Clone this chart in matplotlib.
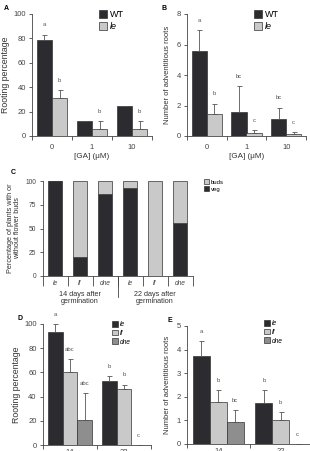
import numpy as np
import matplotlib.pyplot as plt
from matplotlib.patches import Patch

plt.rcParams['font.family'] = ['Liberation Sans', 'DejaVu Sans']

DARK = '#2b2b30'
LIGHT = '#c9c9c9'
MID = '#8e8e8e'
EDGE = '#333333'

# panel A / B data
ga_conc = ['0', '1', '10']
a_wt = [79, 12, 25]
a_wt_err = [4, 0, 0]
a_le = [31, 6, 6]
a_le_err = [6.5, 6, 6]
a_letters_wt = ['a', '', '']
a_letters_le = ['b', 'b', 'b']

b_wt = [5.55, 1.6, 1.1]
b_wt_err = [1.4, 1.65, 0.75]
b_le = [1.45, 0.2, 0.12]
b_le_err = [0.67, 0.2, 0.13]
b_letters_wt = ['a', 'bc', 'bc']
b_letters_le = ['b', 'c', 'c']

# panel C data
c_genotypes = ['le', 'lf', 'dne', 'le', 'lf', 'dne']
c_groups = ['14 days after\ngermination', '22 days after\ngermination']
c_veg = [100, 20, 86, 93, 0, 56]
c_buds = [100 - v for v in c_veg]

# panel D / E data
de_days = ['14', '22']
d_le = [93, 53]
d_le_err = [7, 4]
d_lf = [60, 46]
d_lf_err = [11, 4]
d_dne = [21, 0]
d_dne_err = [22, 0]
d_letters = [['a', 'b'], ['abc', 'b'], ['abc', 'c']]

e_le = [3.75, 1.72]
e_le_err = [0.6, 0.56]
e_lf = [1.8, 1.0]
e_lf_err = [0.48, 0.35]
e_dne = [0.92, 0.0]
e_dne_err = [0.53, 0.0]
e_letters = [['a', 'b'], ['b', 'b'], ['bc', 'c']]

W, H = 310, 451
fig = plt.figure(figsize=(W / 100, H / 100), dpi=100)


def px_axes(left, top, right, bottom):
    return fig.add_axes([left / W, 1 - bottom / H, (right - left) / W, (bottom - top) / H])


def style_axes(ax, tick_size=5.5):
    for s in ['top', 'right']:
        ax.spines[s].set_visible(False)
    for s in ['left', 'bottom']:
        ax.spines[s].set_linewidth(0.6)
        ax.spines[s].set_color('#444444')
    ax.tick_params(axis='y', labelsize=tick_size, length=2.5, width=0.6, pad=2, colors='#444444')
    ax.tick_params(axis='x', which='major', labelsize=tick_size, length=0, pad=6, colors='#444444')
    ax.tick_params(axis='x', which='minor', length=3, width=0.6, colors='#444444')


def grouped_bars(ax, series, errs, colors, letters, offsets, width, ymax):
    x = np.arange(len(series[0]))
    for vals, err, col, lets, off in zip(series, errs, colors, letters, offsets):
        ax.bar(x + off, vals, width, color=col, edgecolor=EDGE, linewidth=0.5, zorder=2)
        ax.errorbar(x + off, vals, yerr=[np.zeros(len(err)), err], fmt='none',
                    ecolor='#555555', elinewidth=0.6, capsize=1.8, capthick=0.6, zorder=3)
        for xi, v, e, t in zip(x + off, vals, err, lets):
            if t:
                ax.text(xi, v + e + ymax * 0.06, t, ha='center', va='bottom',
                        fontsize=4.3, color='#555555')
    ax.set_xticks(x)
    ax.set_xticks(np.arange(len(x) + 1) - 0.5, minor=True)
    ax.set_xlim(-0.5, len(x) - 0.5)
    ax.set_ylim(0, ymax)


def square_legend(ax, labels, colors, loc_px, size, italic, spacing=0.25):
    handles = [Patch(facecolor=c, edgecolor=EDGE, linewidth=0.5) for c in colors]
    leg = ax.legend(handles, labels, loc='upper left',
                    bbox_to_anchor=(loc_px[0] / W, 1 - loc_px[1] / H),
                    bbox_transform=fig.transFigure, frameon=False,
                    handlelength=0.9, handleheight=0.9, handletextpad=0.3,
                    labelspacing=spacing, borderpad=0, borderaxespad=0,
                    prop={'size': size, 'style': 'italic' if italic else 'normal'})
    return leg


# ---------- A ----------
axA = px_axes(32, 14, 152, 136)
style_axes(axA)
grouped_bars(axA, [a_wt, a_le], [a_wt_err, a_le_err], [DARK, LIGHT],
             [a_letters_wt, a_letters_le], [-0.19, 0.19], 0.385, 100)
axA.set_xticklabels(ga_conc)
axA.set_yticks(range(0, 101, 20))
axA.set_ylabel('Rooting percentage', fontsize=6.3, labelpad=2, color='#333333')
axA.set_xlabel('[GA] (\u03bcM)', fontsize=5.8, labelpad=1, color='#333333')
legA = square_legend(axA, ['WT', 'le'], [DARK, LIGHT], (99, 10), 6.5, False, 0.35)
legA.get_texts()[1].set_style('italic')
fig.text(4 / W, 1 - 9 / H, 'A', fontsize=5, fontweight='bold', va='center')

# ---------- B ----------
axB = px_axes(187, 14, 306, 136)
style_axes(axB)
grouped_bars(axB, [b_wt, b_le], [b_wt_err, b_le_err], [DARK, LIGHT],
             [b_letters_wt, b_letters_le], [-0.19, 0.19], 0.385, 8)
axB.set_xticklabels(ga_conc)
axB.set_yticks(range(0, 9, 2))
axB.set_ylabel('Number of adventitious roots', fontsize=5.5, labelpad=4, color='#333333')
axB.set_xlabel('[GA] (\u03bcM)', fontsize=5.8, labelpad=1, color='#333333')
legB = square_legend(axB, ['WT', 'le'], [DARK, LIGHT], (254, 10), 6.5, False, 0.35)
legB.get_texts()[1].set_style('italic')
fig.text(161 / W, 1 - 9 / H, 'B', fontsize=5, fontweight='bold', va='center')

# ---------- C ----------
axC = px_axes(42.5, 181, 192.5, 276)
style_axes(axC, tick_size=4.8)
xc = np.arange(len(c_veg))
axC.bar(xc, c_veg, 0.56, color=DARK, edgecolor=EDGE, linewidth=0.5, label='veg')
axC.bar(xc, c_buds, 0.56, bottom=c_veg, color=LIGHT, edgecolor=EDGE, linewidth=0.5, label='buds')
axC.set_xlim(-0.5, 5.5)
axC.set_ylim(0, 100)
axC.set_yticks([0, 25, 50, 75, 100])
axC.set_xticks(xc)
axC.set_xticklabels(c_genotypes, fontstyle='italic')
axC.set_xticks(np.arange(7) - 0.5, minor=True)
axC.tick_params(axis='x', which='minor', length=7)
axC.tick_params(axis='x', which='major', pad=3)
axC.set_ylabel('Percentage of plants with or\nwithout flower buds', fontsize=5.2,
               labelpad=3, color='#333333', linespacing=1.1)
axC.plot([2.5, 2.5], [0, -0.22], transform=axC.get_xaxis_transform(),
         color='#444444', lw=0.6, clip_on=False)
for gi, g in enumerate(c_groups):
    axC.text(1 + 3 * gi, -0.16, g, transform=axC.get_xaxis_transform(), ha='center',
             va='top', fontsize=5.2, color='#333333', linespacing=0.95)
handlesC = [Patch(facecolor=LIGHT, edgecolor=EDGE, linewidth=0.5),
            Patch(facecolor=DARK, edgecolor=EDGE, linewidth=0.5)]
axC.legend(handlesC, ['buds', 'veg'], loc='upper left',
           bbox_to_anchor=(204 / W, 1 - 179 / H), bbox_transform=fig.transFigure,
           frameon=False, handlelength=0.9, handleheight=0.9, handletextpad=0.2,
           labelspacing=0.3, borderpad=0, borderaxespad=0, prop={'size': 4.3})
fig.text(11 / W, 1 - 172 / H, 'C', fontsize=5, fontweight='bold', va='center')

# ---------- D ----------
axD = px_axes(43, 324, 151, 445)
style_axes(axD)
axD.tick_params(axis='x', which='major', pad=3)
grouped_bars(axD, [d_le, d_lf, d_dne], [d_le_err, d_lf_err, d_dne_err], [DARK, LIGHT, MID],
             d_letters, [-0.27, 0, 0.27], 0.27, 100)
axD.set_xticklabels(de_days)
axD.set_yticks(range(0, 101, 20))
axD.set_ylabel('Rooting percentage', fontsize=6.3, labelpad=2, color='#333333')
square_legend(axD, ['le', 'lf', 'dne'], [DARK, LIGHT, MID], (112, 321), 4.8, True, 0.25)
fig.text(17 / W, 1 - 319 / H, 'D', fontsize=5, fontweight='bold', va='center')

# ---------- E ----------
axE = px_axes(187, 326, 312, 444)
style_axes(axE)
axE.tick_params(axis='x', which='major', pad=3)
grouped_bars(axE, [e_le, e_lf, e_dne], [e_le_err, e_lf_err, e_dne_err], [DARK, LIGHT, MID],
             e_letters, [-0.27, 0, 0.27], 0.27, 5)
axE.set_xticklabels(de_days)
axE.set_yticks(range(0, 6))
axE.set_ylabel('Number of adventitious roots', fontsize=5.5, labelpad=4, color='#333333')
square_legend(axE, ['le', 'lf', 'dne'], [DARK, LIGHT, MID], (264, 320), 4.8, True, 0.25)
fig.text(167 / W, 1 - 320 / H, 'E', fontsize=5, fontweight='bold', va='center')

fig.savefig('out.png', dpi=100)
